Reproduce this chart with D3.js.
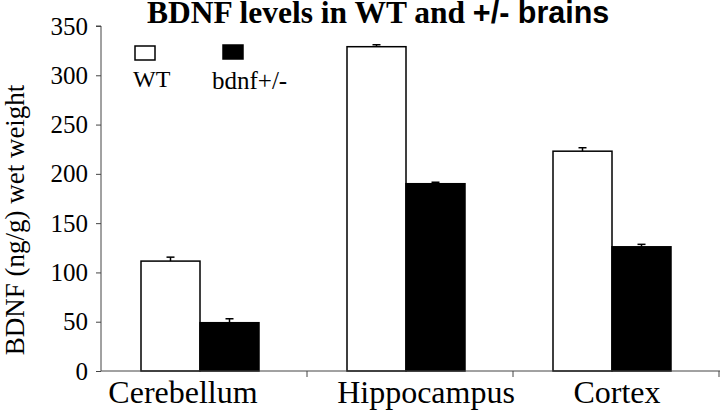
<!DOCTYPE html>
<html>
<head>
<meta charset="utf-8">
<script src="https://cdn.jsdelivr.net/npm/d3@7"></script>
<style>
  body { margin: 0; background: #fff; }
  svg { display: block; font-family: "Liberation Serif", "Times New Roman", serif; }
</style>
</head>
<body>
<svg id="chart"></svg>
<script>
// Data
const regions = ["Cerebellum", "Hippocampus", "Cortex"];
const groups = ["WT", "bdnf+/-"];
const wtValues = [111.5, 329, 223];
const wtErrors = [4, 2, 3.5];
const hetValues = [49, 190, 126];
const hetErrors = [4, 1.5, 2.5];
const yTicks = [0, 50, 100, 150, 200, 250, 300, 350];

const width = 720, height = 410;
const margin = { top: 26, right: 1, bottom: 39, left: 101 };
const serif = "Liberation Serif, Times New Roman, serif";

const fills = { "WT": "#fff", "bdnf+/-": "#000" };
// category label nudges (labels are not centred in the original)
const labelShift = [-21, 16, 1];

// table built from the arrays
const data = regions.map((r, i) => ({
  region: r,
  bars: [
    { group: "WT", value: wtValues[i], err: wtErrors[i] },
    { group: "bdnf+/-", value: hetValues[i], err: hetErrors[i] }
  ]
}));

const svg = d3.select("#chart")
  .attr("width", width)
  .attr("height", height)
  .attr("viewBox", [0, 0, width, height]);

// Scales
const x = d3.scaleBand()
  .domain(regions)
  .range([margin.left, width - margin.right]);

const xInner = d3.scaleBand()
  .domain(groups)
  .range([40, 40 + 118]);

const y = d3.scaleLinear()
  .domain([0, 350])
  .range([height - margin.bottom, margin.top]);

// Bars
const cat = svg.selectAll(".cat").data(data).join("g")
  .attr("class", "cat")
  .attr("transform", d => `translate(${x(d.region)},0)`);

cat.selectAll("rect").data(d => d.bars).join("rect")
  .attr("x", d => xInner(d.group))
  .attr("y", d => y(d.value))
  .attr("width", xInner.bandwidth())
  .attr("height", d => y(0) - y(d.value))
  .attr("fill", d => fills[d.group])
  .attr("stroke", "#000")
  .attr("stroke-width", 1.5);

// Error bars (upper only)
const err = cat.selectAll(".err").data(d => d.bars).join("g")
  .attr("class", "err")
  .attr("stroke", "#000")
  .attr("stroke-width", 1.5);

err.append("line")
  .attr("x1", d => xInner(d.group) + xInner.bandwidth() / 2)
  .attr("x2", d => xInner(d.group) + xInner.bandwidth() / 2)
  .attr("y1", d => y(d.value))
  .attr("y2", d => y(d.value + d.err));

err.append("line")
  .attr("x1", d => xInner(d.group) + xInner.bandwidth() / 2 - 4)
  .attr("x2", d => xInner(d.group) + xInner.bandwidth() / 2 + 4)
  .attr("y1", d => y(d.value + d.err))
  .attr("y2", d => y(d.value + d.err));

// Y axis
const yAxis = svg.append("g")
  .attr("transform", `translate(${margin.left},0)`)
  .call(d3.axisLeft(y).tickValues(yTicks).tickSize(5).tickPadding(8))
  .attr("font-family", serif)
  .call(g => g.selectAll("path, line").attr("stroke", "#444"))
  .call(g => g.selectAll("text")
    .attr("font-family", serif)
    .attr("font-size", 25)
    .attr("fill", "#000"));
yAxis.select(".domain").attr("d", `M-5,${y(350)}H0V${y(0)}`);

// X axis: line with tick marks at category boundaries
const xAxis = svg.append("g")
  .attr("transform", `translate(0,${y(0)})`);
xAxis.append("line")
  .attr("x1", margin.left).attr("x2", width)
  .attr("stroke", "#444");
xAxis.selectAll(".bound").data(regions).join("line")
  .attr("class", "bound")
  .attr("x1", d => x(d) + x.bandwidth())
  .attr("x2", d => x(d) + x.bandwidth())
  .attr("y1", 0).attr("y2", 6)
  .attr("stroke", "#444");
xAxis.selectAll(".lbl").data(regions).join("text")
  .attr("class", "lbl")
  .attr("x", (d, i) => x(d) + x.bandwidth() / 2 + labelShift[i])
  .attr("y", 32)
  .attr("text-anchor", "middle")
  .attr("font-family", serif)
  .attr("font-size", 32)
  .text(d => d);

// Title
const title = svg.append("text")
  .attr("x", 147)
  .attr("y", 23)
  .attr("font-family", serif)
  .attr("font-weight", "bold")
  .attr("font-size", 31.5);
title.append("tspan").text("BDNF levels in WT and ");
title.append("tspan")
  .attr("font-family", "Liberation Sans, Arial, sans-serif")
  .attr("font-size", 30.5)
  .text("+/- brains");

// Y label
svg.append("text")
  .attr("transform", `translate(24,220) rotate(-90)`)
  .attr("text-anchor", "middle")
  .attr("font-family", serif)
  .attr("font-size", 27)
  .text("BDNF (ng/g) wet weight");

// Legend
const legend = svg.append("g");
const legendPos = [
  { group: "WT", bx: 135, by: 46, tx: 133, ty: 87, fs: 24 },
  { group: "bdnf+/-", bx: 223, by: 45, tx: 212, ty: 89, fs: 25 }
];
legend.selectAll("rect").data(legendPos).join("rect")
  .attr("x", d => d.bx).attr("y", d => d.by)
  .attr("width", 20).attr("height", 14)
  .attr("fill", d => fills[d.group])
  .attr("stroke", "#000").attr("stroke-width", 1.5);
legend.selectAll("text").data(legendPos).join("text")
  .attr("x", d => d.tx).attr("y", d => d.ty)
  .attr("font-family", serif)
  .attr("font-size", d => d.fs)
  .text(d => d.group);
</script>
</body>
</html>
